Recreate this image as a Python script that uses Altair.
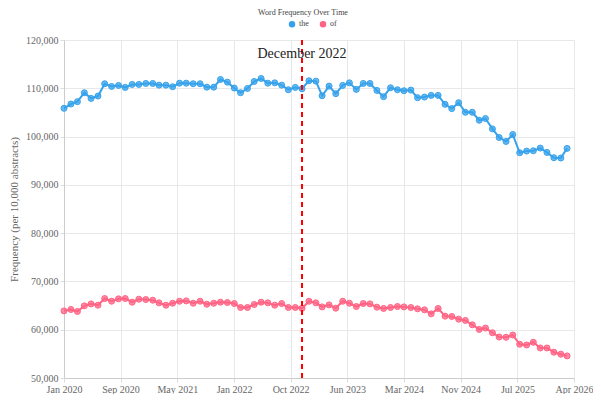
import altair as alt
import pandas as pd

# x categories: monthly observations Jan 2020 .. Mar 2026
months = pd.date_range("2020-01-01", "2026-03-01", freq="MS").strftime("%Y-%m-%d").tolist()

the_values = [
    105850, 106740, 107230, 109080, 107910, 108390, 110940, 110380, 110590, 110180,
    110800, 110800, 111000, 111000, 110650, 110650, 110320, 111060, 111060, 110940,
    110940, 110240, 110240, 111820, 111270, 110040, 109080, 109970, 111410, 112030,
    111060, 111130, 110650, 109700, 110180, 109900, 111550, 111480, 108460, 110450,
    108880, 110590, 111130, 109770, 111000, 111000, 109560, 108260, 110110, 109700,
    109490, 109630, 108050, 108180, 108530, 108530, 106680, 105790, 107020, 105030,
    105030, 103380, 103730, 101590, 99810, 98990, 100430, 96650, 96990, 97060,
    97620, 96720, 95620, 95560, 97550,
]

of_values = [
    63900, 64190, 63780, 64940, 65350, 65080, 66460, 65900, 66390, 66460,
    65700, 66320, 66250, 66110, 65560, 65080, 65490, 65900, 65970, 65490,
    65900, 65280, 65490, 65700, 65630, 65420, 64600, 64600, 65220, 65700,
    65560, 65080, 65420, 64600, 64600, 64430, 65900, 65560, 64730, 65140,
    64460, 65900, 65490, 64800, 65420, 65350, 64670, 64400, 64600, 64800,
    64730, 64600, 64320, 64110, 63290, 64400, 62810, 62740, 62190, 61920,
    61020, 60070, 60340, 59370, 58490, 58430, 58900, 56980, 56840, 57400,
    56220, 56220, 55340, 54930, 54580,
]

series_names = ["the", "of"]
series_colors = ["#36a2eb", "#ff6384"]

x_tick_dates = [
    (2020, 1, 1), (2020, 9, 10), (2021, 5, 22), (2022, 1, 31), (2022, 10, 11),
    (2023, 6, 22), (2024, 3, 1), (2024, 11, 10), (2025, 7, 22), (2026, 4, 1),
]
y_ticks = [50000, 60000, 70000, 80000, 90000, 100000, 110000, 120000]

event_date = ["2022-12-01"]
event_label = ["December 2022"]

FONT = "Liberation Serif"

df = pd.DataFrame({
    "date": months * 2,
    "value": the_values + of_values,
    "word": [series_names[0]] * len(months) + [series_names[1]] * len(months),
})
ev = pd.DataFrame({"date": event_date, "label": event_label})


def dt(t):
    return alt.DateTime(year=t[0], month=t[1], date=t[2], utc=True)


x_scale = alt.Scale(type="utc", domain=[dt(x_tick_dates[0]), dt(x_tick_dates[-1])])
x_axis = alt.Axis(
    values=[dt(t) for t in x_tick_dates], labelExpr="utcFormat(datum.value, '%b %Y')",
    title=None, labelFont=FONT, labelFontSize=10, labelColor="#666",
    tickSize=4, labelPadding=2, tickColor="#ddd", domainColor="#ccc",
    gridColor="#e8e8e8", labelOverlap=False, labelFlush=False,
)
y_scale = alt.Scale(domain=[50000, 120000], nice=False)
y_axis = alt.Axis(
    values=y_ticks, format=",d", title="Frequency (per 10,000 abstracts)",
    titleFont=FONT, titleFontSize=11, titleFontWeight="normal", titleColor="#666",
    titlePadding=6, labelFont=FONT, labelFontSize=10, labelColor="#666",
    tickSize=4, labelPadding=2, tickColor="#ddd", domainColor="#ccc",
    gridColor="#e8e8e8",
)
legend = alt.Legend(
    title=None, orient="none", legendX=224, legendY=-20, direction="horizontal",
    symbolType="circle", symbolSize=25, labelFont=FONT, labelFontSize=8,
    labelColor="#444", columnPadding=8, labelOffset=3, padding=0,
)
color = alt.Color(
    "word:N", scale=alt.Scale(domain=series_names, range=series_colors),
    sort=series_names, legend=legend,
)

base = alt.Chart(df).encode(
    x=alt.X("date:T", scale=x_scale, axis=x_axis),
    y=alt.Y("value:Q", scale=y_scale, axis=y_axis),
    color=color,
)

lines = base.mark_line(strokeWidth=2)
points = base.mark_point(filled=True, size=36, opacity=1, fillOpacity=0.75, strokeWidth=1).encode(
    stroke=alt.Color("word:N", scale=alt.Scale(domain=series_names, range=series_colors), legend=None)
)

rule = alt.Chart(ev).mark_rule(color="#ff0000", strokeWidth=2, strokeDash=[5, 4]).encode(
    x=alt.X("date:T", scale=x_scale)
)
label = alt.Chart(ev).mark_text(font=FONT, fontSize=14, color="#222", baseline="middle", align="center").encode(
    x=alt.X("date:T", scale=x_scale), y=alt.value(14), text="label:N"
)

chart = alt.layer(lines, points, rule, label).properties(
    width=510, height=338,
    title=alt.TitleParams(
        "Word Frequency Over Time", font=FONT, fontSize=8, fontWeight="normal",
        color="#444", anchor="middle", offset=12, dx=-16, dy=9,
    ),
    autosize=alt.AutoSizeParams(type="none"),
    padding={"left": 56, "top": 32, "right": 19, "bottom": 16},
).configure_view(stroke=None)

chart.save("out.html", embed_options={"renderer": "svg", "actions": False})
